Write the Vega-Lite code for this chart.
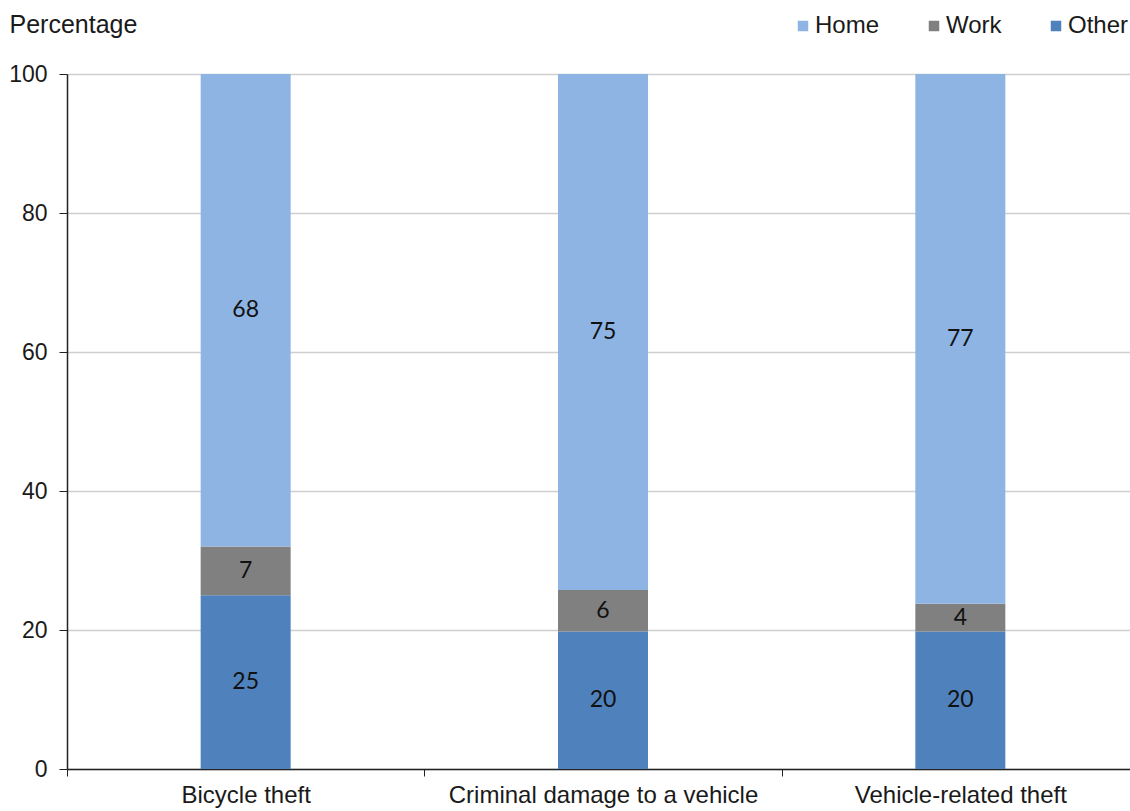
{
  "$schema": "https://vega.github.io/schema/vega-lite/v6.json",
  "width": 1072,
  "height": 695,
  "autosize": {"type": "none"},
  "padding": {"left": 67, "top": 74, "right": 0, "bottom": 42},
  "background": "white",
  "data": {
    "values": [
      {"crime": "Bicycle theft", "place": "Other", "value": 25},
      {"crime": "Bicycle theft", "place": "Work", "value": 7},
      {"crime": "Bicycle theft", "place": "Home", "value": 68},
      {"crime": "Criminal damage to a vehicle", "place": "Other", "value": 20},
      {"crime": "Criminal damage to a vehicle", "place": "Work", "value": 6},
      {"crime": "Criminal damage to a vehicle", "place": "Home", "value": 75},
      {"crime": "Vehicle-related theft", "place": "Other", "value": 20},
      {"crime": "Vehicle-related theft", "place": "Work", "value": 4},
      {"crime": "Vehicle-related theft", "place": "Home", "value": 77}
    ]
  },
  "transform": [
    {"calculate": "indexof(['Other', 'Work', 'Home'], datum.place)", "as": "stackOrder"},
    {
      "stack": "value",
      "groupby": ["crime"],
      "sort": [{"field": "stackOrder", "order": "ascending"}],
      "offset": "normalize",
      "as": ["y0", "y1"]
    },
    {"calculate": "(datum.y0 + datum.y1) / 2", "as": "yMid"}
  ],
  "encoding": {
    "x": {
      "field": "crime",
      "type": "nominal",
      "sort": ["Bicycle theft", "Criminal damage to a vehicle", "Vehicle-related theft"],
      "scale": {"paddingInner": 0, "paddingOuter": 0},
      "axis": {
        "title": null,
        "labelAngle": 0,
        "labelLimit": 0,
        "labelFont": "Liberation Sans",
        "labelFontSize": 24,
        "labelColor": "#1a1a1a",
        "labelPadding": 7,
        "tickBand": "extent",
        "tickSize": 7,
        "tickColor": "#222222",
        "domainColor": "#222222",
        "domainWidth": 1.5,
        "grid": false
      }
    }
  },
  "layer": [
    {
      "mark": {"type": "bar", "width": 90},
      "encoding": {
        "y": {
          "field": "y0",
          "type": "quantitative",
          "scale": {"domain": [0, 1], "nice": false},
          "axis": {
            "values": [0, 0.2, 0.4, 0.6, 0.8, 1],
            "labelExpr": "format(datum.value * 100, 'd')",
            "title": "Percentage",
            "titleAngle": 0,
            "titleAlign": "left",
            "titleBaseline": "middle",
            "titleX": -58,
            "titleY": -50,
            "titleFont": "Liberation Sans",
            "titleFontSize": 25,
            "titleFontWeight": "normal",
            "titleColor": "#1a1a1a",
            "labelFont": "Liberation Sans",
            "labelFontSize": 23,
            "labelColor": "#1a1a1a",
            "labelPadding": 12,
            "tickSize": 8,
            "tickColor": "#222222",
            "domainColor": "#222222",
            "domainWidth": 1.5,
            "grid": true,
            "gridColor": "#cfcfcf",
            "gridWidth": 1.5
          }
        },
        "y2": {"field": "y1"},
        "color": {
          "field": "place",
          "type": "nominal",
          "scale": {
            "domain": ["Home", "Work", "Other"],
            "range": ["#8eb4e3", "#808080", "#4f81bd"]
          },
          "legend": {
            "title": null,
            "orient": "none",
            "direction": "horizontal",
            "legendX": 724,
            "legendY": -60,
            "symbolType": "square",
            "symbolSize": 110,
            "symbolStrokeWidth": 0,
            "symbolOffset": 0,
            "labelOffset": 0,
            "columnPadding": 42,
            "labelFont": "Liberation Sans",
            "labelFontSize": 24,
            "labelColor": "#1a1a1a"
          }
        }
      }
    },
    {
      "mark": {
        "type": "text",
        "font": "Lato",
        "fontSize": 23,
        "color": "#111111",
        "baseline": "middle",
        "align": "center"
      },
      "encoding": {
        "y": {"field": "yMid", "type": "quantitative"},
        "text": {"field": "value", "type": "quantitative"}
      }
    }
  ],
  "config": {
    "view": {"stroke": null}
  }
}
